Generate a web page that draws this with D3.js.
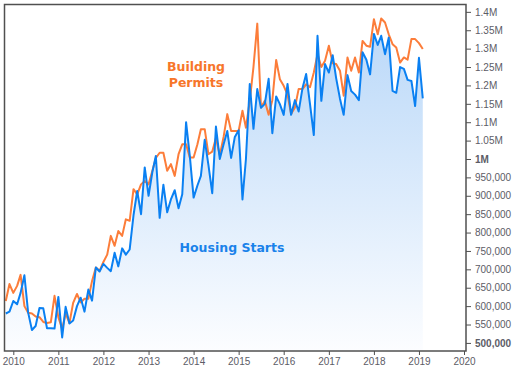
<!DOCTYPE html>
<html>
<head>
<meta charset="utf-8">
<script src="https://cdn.jsdelivr.net/npm/d3@7"></script>
<style>
    body { margin: 0; background: #fff; }
    svg { display: block; }
</style>
</head>
<body>
<div id="chart"></div>
<script>

// monthly values, Nov 2009 - Feb 2019 (thousands, annual rate)
var startMonth = [2009, 10];

var housingStarts = [
    580, 585,
    614, 605, 636, 684, 583, 535, 546, 595, 594, 540, 540, 539,
    625, 515, 598, 553, 561, 600, 623, 585, 645, 615, 705, 694,
    715, 704, 695, 745, 708, 757, 740, 754, 847, 913, 850, 977,
    900, 965, 1008, 840, 930, 855, 890, 915, 866, 904, 1100, 1009,
    895, 928, 954, 1052, 984, 907, 1088, 1000, 1040, 1076, 1003, 1060,
    1078, 890, 1000, 1204, 1082, 1190, 1139, 1150, 1218, 1070, 1170, 1149,
    1120, 1204, 1120, 1160, 1129, 1192, 1231, 1150, 1065, 1335, 1158, 1258,
    1235, 1282, 1220, 1164, 1120, 1228, 1185, 1175, 1160, 1290, 1270, 1230,
    1340, 1310, 1335, 1285, 1330, 1185, 1180, 1250, 1245, 1215, 1212, 1144,
    1275, 1165
];

var buildingPermits = [
    614, 660,
    636, 655, 685, 600, 582, 580, 572, 570, 557, 554, 556, 628,
    570, 538, 580, 554, 609, 633, 610, 620, 620, 668, 705, 696,
    720, 740, 791, 764, 804, 791, 836, 832, 918, 904, 931, 940,
    931, 968, 1003, 1017, 1017, 968, 986, 954, 1013, 1040, 1040, 1004,
    1004, 1040, 1081, 1081, 1013, 1020, 1057, 1010, 1060, 1122, 1076, 1076,
    1076, 1131, 1085, 1158, 1250, 1368, 1140, 1158, 1120, 1160, 1269, 1217,
    1199, 1175, 1122, 1140, 1190, 1190, 1203, 1195, 1235, 1285, 1250, 1267,
    1308, 1260, 1258, 1240, 1172, 1276, 1240, 1276, 1235, 1321, 1308, 1305,
    1380, 1339, 1382, 1371, 1339, 1312, 1303, 1262, 1276, 1270, 1326, 1326,
    1315, 1299
];

var yearTicks = [2010, 2011, 2012, 2013, 2014, 2015, 2016, 2017, 2018, 2019, 2020];
var valueTicks = [500000, 550000, 600000, 650000, 700000, 750000, 800000, 850000, 900000,
    950000, 1000000, 1050000, 1100000, 1150000, 1200000, 1250000, 1300000, 1350000, 1400000];
var boldTicks = [500000, 1000000];

var width = 521;
var height = 369;
var plotLeft = 4.5, plotTop = 4.5, plotRight = 466, plotBottom = 351;
var axisColor = '#505050';
var labelColor = '#5c5c66';

function monthDate(i) {
    return new Date(startMonth[0], startMonth[1] + i, 1);
}

var starts = housingStarts.map(function (d, i) { return {date: monthDate(i), value: d * 1000}; });
var permits = buildingPermits.map(function (d, i) { return {date: monthDate(i), value: d * 1000}; });

var xScale = d3.scaleTime()
    .domain([new Date(2010, 0, 1), new Date(2020, 0, 1)])
    .range([13.3, 464]);

var yScale = d3.scaleLinear()
    .domain([478000, 1420000])
    .range([plotBottom, plotTop]);

var svg = d3.select('#chart').append('svg')
    .attr('width', width)
    .attr('height', height)
    .style('font-family', '"DejaVu Sans", Verdana, sans-serif');

var defs = svg.append('defs');

var grad = defs.append('linearGradient')
    .attr('id', 'startsFill')
    .attr('gradientUnits', 'userSpaceOnUse')
    .attr('x1', 0).attr('y1', plotTop)
    .attr('x2', 0).attr('y2', plotBottom);
grad.append('stop').attr('offset', '0%').attr('stop-color', '#b6d6f8');
grad.append('stop').attr('offset', '100%').attr('stop-color', '#fcfdff');

defs.append('clipPath')
    .attr('id', 'plotClip')
    .append('rect')
    .attr('x', plotLeft)
    .attr('y', plotTop)
    .attr('width', plotRight - plotLeft)
    .attr('height', plotBottom - plotTop);

var plot = svg.append('g').attr('clip-path', 'url(#plotClip)');

var area = d3.area()
    .x(function (d) { return xScale(d.date); })
    .y0(plotBottom)
    .y1(function (d) { return yScale(d.value); });

var line = d3.line()
    .x(function (d) { return xScale(d.date); })
    .y(function (d) { return yScale(d.value); });

plot.append('path')
    .datum(starts)
    .attr('d', area)
    .attr('fill', 'url(#startsFill)');

plot.append('path')
    .datum(permits)
    .attr('d', line)
    .attr('fill', 'none')
    .attr('stroke', '#fc7d3a')
    .attr('stroke-width', 2)
    .attr('stroke-linejoin', 'round');

plot.append('path')
    .datum(starts)
    .attr('d', line)
    .attr('fill', 'none')
    .attr('stroke', '#0a80f2')
    .attr('stroke-width', 2)
    .attr('stroke-linejoin', 'round');

// frame
svg.append('rect')
    .attr('x', plotLeft)
    .attr('y', plotTop)
    .attr('width', plotRight - plotLeft)
    .attr('height', plotBottom - plotTop)
    .attr('fill', 'none')
    .attr('stroke', axisColor)
    .attr('stroke-width', 1.5);

// right axis
var yAxis = d3.axisRight(yScale)
    .tickValues(valueTicks)
    .tickSize(5)
    .tickPadding(4)
    .tickFormat(function (d) {
        if (d >= 1000000) return (d / 1000000) + 'M';
        return d3.format(',')(d);
    });

var yG = svg.append('g')
    .attr('transform', 'translate(' + plotRight + ',0)')
    .call(yAxis);
yG.select('.domain').remove();
yG.selectAll('.tick line').attr('stroke', axisColor);
yG.selectAll('.tick text')
    .attr('fill', labelColor)
    .style('font-size', '10px')
    .style('font-weight', function (d) { return boldTicks.indexOf(d) >= 0 ? 'bold' : 'normal'; });

// bottom axis
var xAxis = d3.axisBottom(xScale)
    .tickValues(yearTicks.map(function (y) { return new Date(y, 0, 1); }))
    .tickSize(4)
    .tickPadding(3)
    .tickFormat(d3.timeFormat('%Y'));

var xG = svg.append('g')
    .attr('transform', 'translate(0,' + plotBottom + ')')
    .call(xAxis);
xG.select('.domain').remove();
xG.selectAll('.tick line').attr('stroke', axisColor);
xG.selectAll('.tick text')
    .attr('fill', labelColor)
    .style('font-size', '10px');

// series labels
var permitsLabel = svg.append('text')
    .attr('x', 196)
    .attr('y', 71)
    .attr('text-anchor', 'middle')
    .attr('fill', '#f7762a')
    .style('font-size', '12.5px')
    .style('font-weight', 'bold');
permitsLabel.append('tspan').attr('x', 196).text('Building');
permitsLabel.append('tspan').attr('x', 196).attr('dy', 16).text('Permits');

svg.append('text')
    .attr('x', 232)
    .attr('y', 252)
    .attr('text-anchor', 'middle')
    .attr('fill', '#1a82ea')
    .style('font-size', '12.5px')
    .style('font-weight', 'bold')
    .text('Housing Starts');

</script>
</body>
</html>
